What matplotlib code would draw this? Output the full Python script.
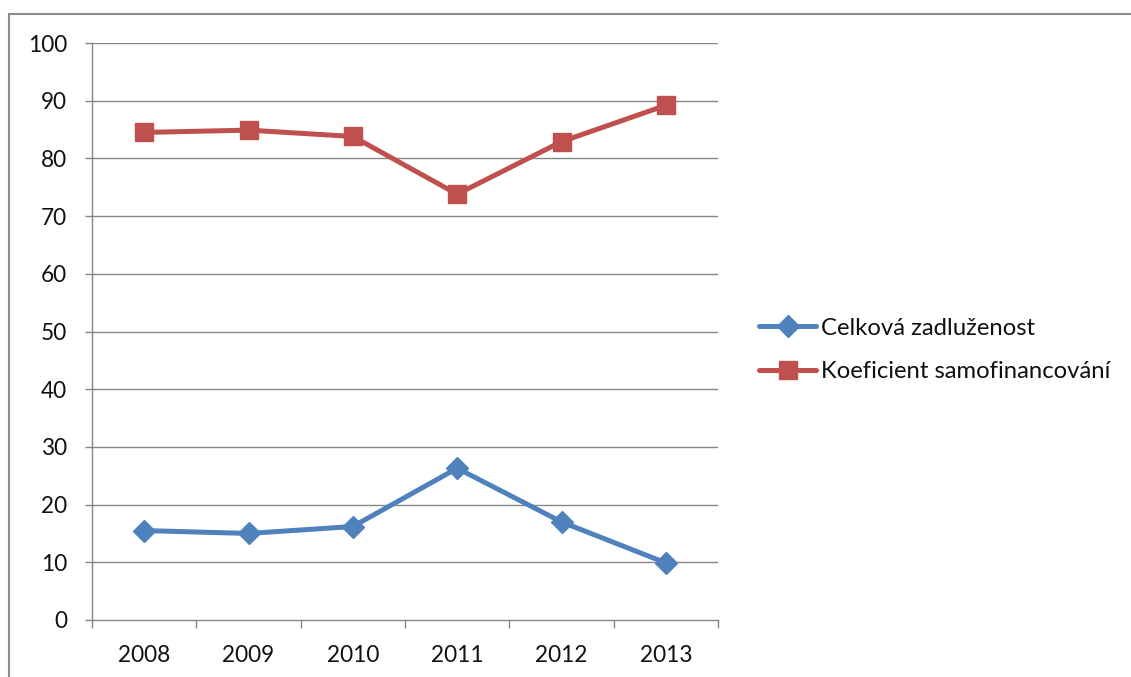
import matplotlib
matplotlib.use("Agg")
import matplotlib.pyplot as plt
from matplotlib.lines import Line2D

years = ["2008", "2009", "2010", "2011", "2012", "2013"]
celkova = [15.5, 15.0, 16.2, 26.3, 17.0, 9.9]
koef = [84.5, 84.9, 83.8, 73.8, 82.9, 89.2]
series_names = ["Celková zadluženost", "Koeficient samofinancování"]
yticks = [0, 10, 20, 30, 40, 50, 60, 70, 80, 90, 100]

plt.rcParams['font.family'] = ['Lato', 'DejaVu Sans']

W, H = 1131, 677
fig = plt.figure(figsize=(W / 100, H / 100), dpi=100)
ax = fig.add_axes([92 / W, (H - 620) / H, (718 - 92) / W, (620 - 43) / H])

grid_c = "#868686"
blue = "#4F81BD"
red = "#C0504D"

x = list(range(len(years)))
ax.plot(x, celkova, color=blue, lw=3.6, marker="D", markersize=11,
        label=series_names[0], solid_capstyle="round", solid_joinstyle="round")
ax.plot(x, koef, color=red, lw=3.6, marker="s", markersize=13,
        label=series_names[1], solid_capstyle="round", solid_joinstyle="round")

ax.set_xlim(-0.5, len(years) - 0.5)
ax.set_ylim(0, 100)
ax.set_yticks(yticks)
ax.set_yticklabels([str(v) for v in yticks])
ax.set_xticks(x)
ax.set_xticklabels(years)
ax.set_xticks([i - 0.5 for i in range(len(years) + 1)], minor=True)

for yv in yticks[1:]:
    ax.axhline(yv, color=grid_c, lw=1.0, zorder=0)

for s in ["top", "right"]:
    ax.spines[s].set_visible(False)
for s in ["left", "bottom"]:
    ax.spines[s].set_color(grid_c)
    ax.spines[s].set_linewidth(1.0)

ax.tick_params(axis="x", which="major", length=0, pad=18, labelsize=16.3, labelcolor="#111111")
ax.tick_params(axis="x", which="minor", length=6, color=grid_c, width=1.0, direction="out")
ax.tick_params(axis="y", which="major", length=5, color=grid_c, width=1.0,
               direction="out", pad=13, labelsize=16.3, labelcolor="#111111")

leg = fig.legend(loc="center left", bbox_to_anchor=(759 / W, (H - 350) / H),
                 frameon=False, fontsize=17.2, handlelength=2.4,
                 handletextpad=0.2, labelspacing=0.95, borderpad=0, borderaxespad=0)
for t in leg.get_texts():
    t.set_color("#111111")

fig.add_artist(Line2D([9 / W, 9 / W], [0, (H - 14) / H], color="#8c8c8c", lw=1.5,
                      transform=fig.transFigure))
fig.add_artist(Line2D([9 / W, 1131 / W], [(H - 14) / H, (H - 14) / H], color="#8c8c8c",
                      lw=1.5, transform=fig.transFigure))

fig.savefig("out.png", dpi=100)
